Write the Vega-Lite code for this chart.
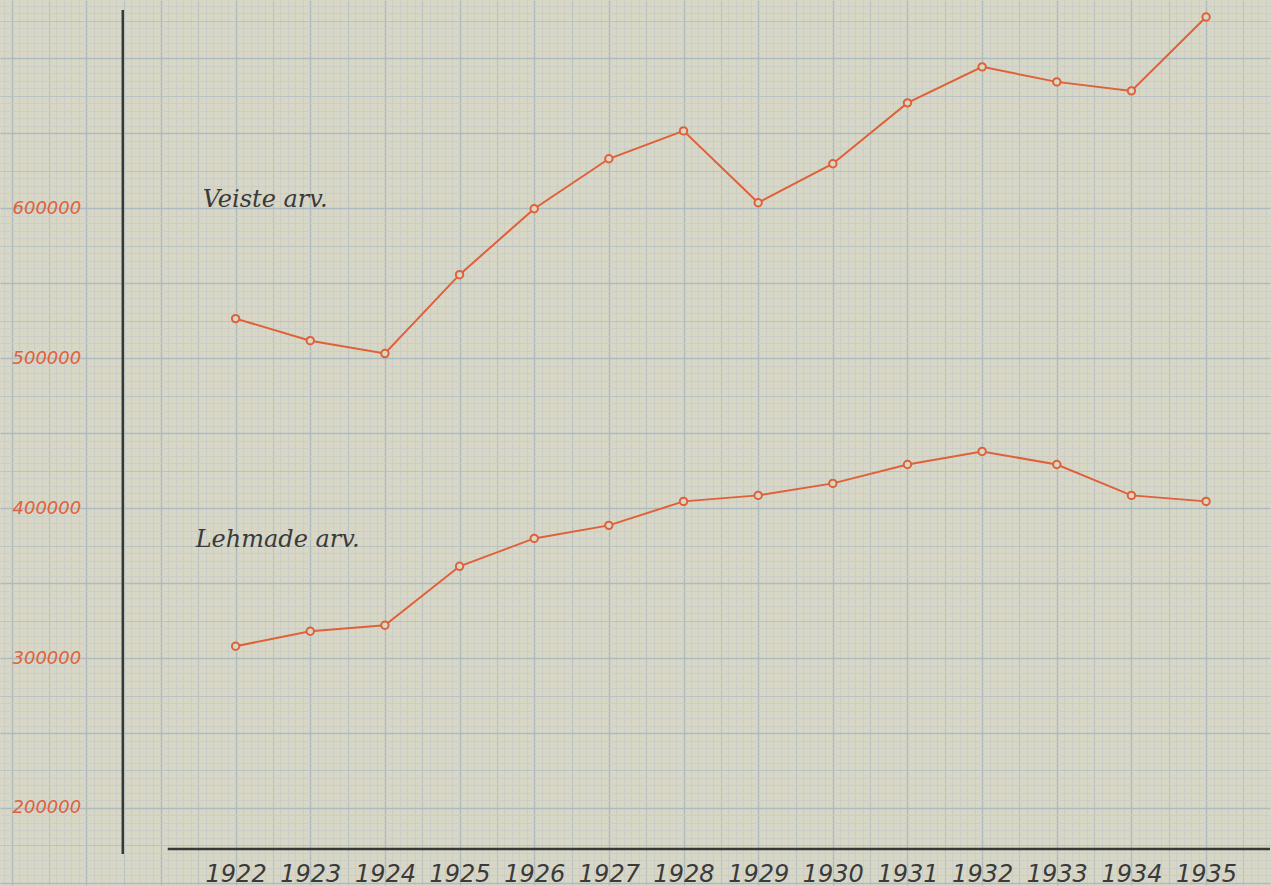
{
  "$schema": "https://vega.github.io/schema/vega-lite/v6.json",
  "width": 1272,
  "height": 886,
  "padding": 0,
  "autosize": {"type": "fit", "contains": "padding"},
  "background": "#d8d7c6",
  "config": {"view": {"stroke": null}},
  "data": {"values": [{}]},
  "datasets": {
    "series": [
      {"series": "Veiste arv.", "year": 1922, "value": 526400},
      {"series": "Veiste arv.", "year": 1923, "value": 511700},
      {"series": "Veiste arv.", "year": 1924, "value": 503100},
      {"series": "Veiste arv.", "year": 1925, "value": 555700},
      {"series": "Veiste arv.", "year": 1926, "value": 599700},
      {"series": "Veiste arv.", "year": 1927, "value": 633000},
      {"series": "Veiste arv.", "year": 1928, "value": 651600},
      {"series": "Veiste arv.", "year": 1929, "value": 603700},
      {"series": "Veiste arv.", "year": 1930, "value": 629700},
      {"series": "Veiste arv.", "year": 1931, "value": 670300},
      {"series": "Veiste arv.", "year": 1932, "value": 694300},
      {"series": "Veiste arv.", "year": 1933, "value": 684300},
      {"series": "Veiste arv.", "year": 1934, "value": 678300},
      {"series": "Veiste arv.", "year": 1935, "value": 727600},
      {"series": "Lehmade arv.", "year": 1922, "value": 307900},
      {"series": "Lehmade arv.", "year": 1923, "value": 317900},
      {"series": "Lehmade arv.", "year": 1924, "value": 321900},
      {"series": "Lehmade arv.", "year": 1925, "value": 361200},
      {"series": "Lehmade arv.", "year": 1926, "value": 379800},
      {"series": "Lehmade arv.", "year": 1927, "value": 388500},
      {"series": "Lehmade arv.", "year": 1928, "value": 404500},
      {"series": "Lehmade arv.", "year": 1929, "value": 408500},
      {"series": "Lehmade arv.", "year": 1930, "value": 416500},
      {"series": "Lehmade arv.", "year": 1931, "value": 429100},
      {"series": "Lehmade arv.", "year": 1932, "value": 437800},
      {"series": "Lehmade arv.", "year": 1933, "value": 429100},
      {"series": "Lehmade arv.", "year": 1934, "value": 408500},
      {"series": "Lehmade arv.", "year": 1935, "value": 404500}
    ]
  },
  "layer": [
    {
      "data": {"name": "series"},
      "mark": {"type": "line", "color": "#df6039", "strokeWidth": 2},
      "encoding": {
        "x": {
          "field": "year", "type": "quantitative",
          "scale": {"domain": [1918.844, 1935.856], "nice": false, "zero": false},
          "axis": {
            "orient": "bottom", "grid": true, "tickCount": 170, "labels": false, "ticks": false, "domain": false, "title": null,
            "gridColor": {"condition": [
              {"test": "abs(datum.value - round(datum.value)) < 0.01", "value": "#adbac0"},
              {"test": "abs(datum.value*2 - round(datum.value*2)) < 0.01", "value": "#bac3c3"}
            ], "value": "#cbcec6"},
            "gridWidth": {"condition": [
              {"test": "abs(datum.value - round(datum.value)) < 0.01", "value": 1.4},
              {"test": "abs(datum.value*2 - round(datum.value*2)) < 0.01", "value": 1.2}
            ], "value": 1},
            "gridOpacity": 1
          }
        },
        "y": {
          "field": "value", "type": "quantitative",
          "scale": {"domain": [148630, 738910], "nice": false, "zero": false},
          "axis": {
            "orient": "left", "grid": true, "tickCount": 118, "labels": false, "ticks": false, "domain": false, "title": null,
            "gridColor": {"condition": [
              {"test": "datum.value % 50000 === 0", "value": "#adbac0"},
              {"test": "datum.value % 25000 === 0", "value": "#bac3c3"}
            ], "value": "#cbcec6"},
            "gridWidth": {"condition": [
              {"test": "datum.value % 50000 === 0", "value": 1.4},
              {"test": "datum.value % 25000 === 0", "value": 1.2}
            ], "value": 1},
            "gridOpacity": 1
          }
        },
        "detail": {"field": "series"}
      }
    },
    {
      "data": {"name": "series"},
      "mark": {"type": "point", "shape": "circle", "filled": true, "fill": "#d8d7c6", "stroke": "#df6039", "strokeWidth": 2, "size": 55, "opacity": 1},
      "encoding": {
        "x": {
          "field": "year", "type": "quantitative",
          "axis": {
            "orient": "bottom", "grid": false, "ticks": false, "domain": false, "title": null,
            "values": [1922, 1923, 1924, 1925, 1926, 1927, 1928, 1929, 1930, 1931, 1932, 1933, 1934, 1935],
            "format": "d", "labelPadding": -11, "labelBaseline": "middle", "labelAlign": "center",
            "labelFont": "DejaVu Sans", "labelFontStyle": "oblique", "labelFontSize": 24, "labelColor": "#3a3a3a",
            "labelOverlap": false, "labelFlush": false
          }
        },
        "y": {
          "field": "value", "type": "quantitative",
          "axis": {
            "orient": "left", "grid": false, "ticks": false, "domain": false, "title": null,
            "values": [200000, 300000, 400000, 500000, 600000],
            "format": "d", "labelPadding": -12, "labelAlign": "left", "labelBaseline": "middle",
            "labelFont": "DejaVu Sans", "labelFontStyle": "oblique", "labelFontSize": 18, "labelColor": "#e0603c",
            "labelOverlap": false, "labelFlush": false
          }
        }
      }
    },
    {
      "mark": {"type": "rule", "color": "#383838", "strokeWidth": 2.5},
      "encoding": {
        "x": {"datum": 1920.489, "type": "quantitative", "axis": null},
        "y": {"datum": 732245, "type": "quantitative", "axis": null},
        "y2": {"datum": 169306}
      }
    },
    {
      "mark": {"type": "rule", "color": "#383838", "strokeWidth": 2.5},
      "encoding": {
        "x": {"datum": 1921.091, "type": "quantitative", "axis": null},
        "x2": {"datum": 1935.856},
        "y": {"datum": 172637, "type": "quantitative", "axis": null}
      }
    },
    {
      "mark": {"type": "text", "align": "left", "baseline": "middle", "font": "DejaVu Serif", "fontStyle": "italic", "fontSize": 24, "color": "#3a3a3a"},
      "encoding": {
        "x": {"datum": 1921.559, "type": "quantitative", "axis": null},
        "y": {"datum": 605667, "type": "quantitative", "axis": null},
        "text": {"value": "Veiste arv."}
      }
    },
    {
      "mark": {"type": "text", "align": "left", "baseline": "middle", "font": "DejaVu Serif", "fontStyle": "italic", "fontSize": 24, "color": "#3a3a3a"},
      "encoding": {
        "x": {"datum": 1921.465, "type": "quantitative", "axis": null},
        "y": {"datum": 378493, "type": "quantitative", "axis": null},
        "text": {"value": "Lehmade arv."}
      }
    }
  ],
  "resolve": {"axis": {"x": "independent", "y": "independent"}}
}
